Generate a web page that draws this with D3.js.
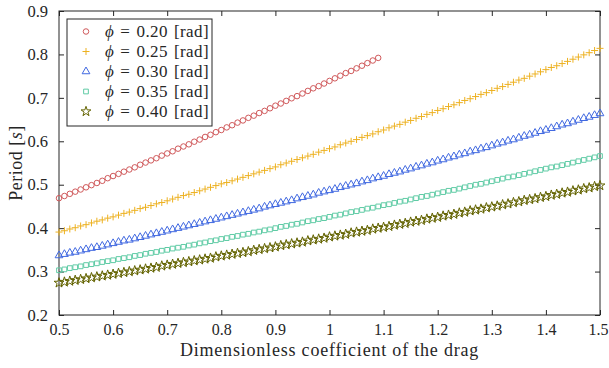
<!DOCTYPE html>
<html>
<head>
<meta charset="utf-8">
<script src="https://cdn.jsdelivr.net/npm/d3@7"></script>
<style>
  body { margin: 0; background: #fff; }
  svg { display: block; }
</style>
</head>
<body>
<svg id="chart"></svg>
<script>
// drag coefficient grid (x) and periods
const dragCoef = [0.5,0.51,0.52,0.53,0.54,0.55,0.56,0.57,0.58,0.59,0.6,0.61,0.62,0.63,0.64,0.65,0.66,0.67,0.68,0.69,
  0.7,0.71,0.72,0.73,0.74,0.75,0.76,0.77,0.78,0.79,0.8,0.81,0.82,0.83,0.84,0.85,0.86,0.87,0.88,0.89,
  0.9,0.91,0.92,0.93,0.94,0.95,0.96,0.97,0.98,0.99,1,1.01,1.02,1.03,1.04,1.05,1.06,1.07,1.08,1.09,
  1.1,1.11,1.12,1.13,1.14,1.15,1.16,1.17,1.18,1.19,1.2,1.21,1.22,1.23,1.24,1.25,1.26,1.27,1.28,1.29,
  1.3,1.31,1.32,1.33,1.34,1.35,1.36,1.37,1.38,1.39,1.4,1.41,1.42,1.43,1.44,1.45,1.46,1.47,1.48,1.49,1.5];

const period020 = [0.469,0.474,0.479,0.484,0.489,0.494,0.499,0.504,0.509,0.515,0.520,0.525,0.530,0.535,0.540,0.546,0.551,0.556,0.561,0.567,
  0.572,0.577,0.583,0.588,0.593,0.599,0.604,0.610,0.615,0.621,0.626,0.632,0.637,0.643,0.648,0.654,0.659,0.665,0.670,0.676,
  0.682,0.687,0.693,0.699,0.704,0.710,0.716,0.722,0.727,0.733,0.739,0.745,0.751,0.757,0.762,0.768,0.774,0.780,0.786,0.792];

const period025 = [0.391,0.394,0.398,0.401,0.405,0.408,0.412,0.416,0.419,0.423,0.426,0.430,0.434,0.437,0.441,0.445,0.448,0.452,0.456,0.459,
  0.463,0.467,0.471,0.475,0.478,0.482,0.486,0.490,0.494,0.498,0.502,0.505,0.509,0.513,0.517,0.521,0.525,0.529,0.533,0.537,
  0.541,0.546,0.550,0.554,0.558,0.562,0.566,0.570,0.575,0.579,0.583,0.587,0.592,0.596,0.600,0.604,0.609,0.613,0.617,0.622,
  0.626,0.631,0.635,0.639,0.644,0.648,0.653,0.657,0.662,0.666,0.671,0.675,0.680,0.684,0.689,0.694,0.698,0.703,0.708,0.712,
  0.717,0.722,0.726,0.731,0.736,0.741,0.745,0.750,0.755,0.760,0.765,0.770,0.774,0.779,0.784,0.789,0.794,0.799,0.804,0.809,0.814];

const period030 = [0.337,0.340,0.343,0.345,0.348,0.351,0.354,0.356,0.359,0.362,0.365,0.368,0.371,0.373,0.376,0.379,0.382,0.385,0.388,0.391,
  0.394,0.397,0.400,0.403,0.406,0.409,0.412,0.415,0.418,0.421,0.424,0.427,0.430,0.433,0.436,0.439,0.442,0.445,0.449,0.452,
  0.455,0.458,0.461,0.464,0.468,0.471,0.474,0.477,0.481,0.484,0.487,0.490,0.494,0.497,0.500,0.503,0.507,0.510,0.514,0.517,
  0.520,0.524,0.527,0.530,0.534,0.537,0.541,0.544,0.548,0.551,0.555,0.558,0.562,0.565,0.569,0.572,0.576,0.579,0.583,0.586,
  0.590,0.594,0.597,0.601,0.604,0.608,0.612,0.615,0.619,0.623,0.626,0.630,0.634,0.638,0.641,0.645,0.649,0.653,0.656,0.660,0.664];

const period035 = [0.303,0.305,0.308,0.310,0.312,0.315,0.317,0.319,0.322,0.324,0.326,0.329,0.331,0.333,0.336,0.338,0.341,0.343,0.345,0.348,
  0.350,0.353,0.355,0.357,0.360,0.362,0.365,0.367,0.370,0.372,0.375,0.377,0.380,0.382,0.385,0.387,0.390,0.392,0.395,0.397,
  0.400,0.403,0.405,0.408,0.410,0.413,0.416,0.418,0.421,0.423,0.426,0.429,0.431,0.434,0.437,0.439,0.442,0.445,0.447,0.450,
  0.453,0.455,0.458,0.461,0.463,0.466,0.469,0.472,0.474,0.477,0.480,0.483,0.486,0.488,0.491,0.494,0.497,0.500,0.502,0.505,
  0.508,0.511,0.514,0.517,0.519,0.522,0.525,0.528,0.531,0.534,0.537,0.540,0.542,0.545,0.548,0.551,0.554,0.557,0.560,0.563,0.566];

const period040 = [0.274,0.276,0.278,0.280,0.282,0.284,0.286,0.288,0.290,0.292,0.294,0.296,0.298,0.300,0.302,0.304,0.306,0.308,0.310,0.313,
  0.315,0.317,0.319,0.321,0.323,0.325,0.327,0.329,0.331,0.334,0.336,0.338,0.340,0.342,0.344,0.346,0.349,0.351,0.353,0.355,
  0.357,0.360,0.362,0.364,0.366,0.368,0.371,0.373,0.375,0.377,0.380,0.382,0.384,0.386,0.389,0.391,0.393,0.395,0.398,0.400,
  0.402,0.404,0.407,0.409,0.411,0.414,0.416,0.418,0.421,0.423,0.425,0.428,0.430,0.432,0.435,0.437,0.440,0.442,0.444,0.447,
  0.449,0.451,0.454,0.456,0.459,0.461,0.464,0.466,0.468,0.471,0.473,0.476,0.478,0.481,0.483,0.486,0.488,0.491,0.493,0.496,0.498];

const phiLabels = ["0.20", "0.25", "0.30", "0.35", "0.40"];
const xTicks = [0.5, 0.6, 0.7, 0.8, 0.9, 1, 1.1, 1.2, 1.3, 1.4, 1.5];
const yTicks = [0.2, 0.3, 0.4, 0.5, 0.6, 0.7, 0.8, 0.9];

const width = 609, height = 368;
const margin = { top: 11, right: 9, bottom: 53, left: 59 };
const axisColor = "#262626";
const serif = "'Liberation Serif', 'DejaVu Serif', serif";

const svg = d3.select("#chart")
  .attr("width", width)
  .attr("height", height)
  .attr("viewBox", [0, 0, width, height])
  .style("font-family", serif);

const x = d3.scaleLinear()
  .domain([0.5, 1.5])
  .range([margin.left, width - margin.right]);

const y = d3.scaleLinear()
  .domain([0.2, 0.9])
  .range([height - margin.bottom, margin.top]);

// marker shapes
const plusPath = "M-3.5,0H3.5M0,-3.5V3.5";
const series = [
  { vals: period020, color: "#D0595B", shape: d3.symbol(d3.symbolCircle, 24)() },
  { vals: period025, color: "#EDB120", shape: plusPath },
  { vals: period030, color: "#4169E1", shape: d3.symbol(d3.symbolTriangle, 26)() },
  { vals: period035, color: "#5FCBA5", shape: d3.symbol(d3.symbolSquare, 22)() },
  { vals: period040, color: "#636300", shape: d3.symbol(d3.symbolStar, 30)() }
];

// axes: ticks inside, mirrored on top/right (box on)
const tickLen = 5;
svg.append("g")
  .attr("transform", `translate(0,${height - margin.bottom})`)
  .call(d3.axisBottom(x).tickValues(xTicks).tickSizeInner(-tickLen).tickSizeOuter(0).tickPadding(9).tickFormat(d3.format("")))
  .call(g => {
    g.select(".domain").remove();
    g.selectAll(".tick line").attr("stroke", axisColor);
    g.selectAll("text").attr("fill", axisColor).style("font-size", "16px").style("font-family", serif);
    g.selectAll(".tick:last-of-type text").attr("dx", "-2");
  });

svg.append("g")
  .attr("transform", `translate(0,${margin.top})`)
  .call(d3.axisTop(x).tickValues(xTicks).tickSizeInner(-tickLen).tickSizeOuter(0).tickFormat(""))
  .call(g => {
    g.select(".domain").remove();
    g.selectAll(".tick line").attr("stroke", axisColor);
  });

svg.append("g")
  .attr("transform", `translate(${margin.left},0)`)
  .call(d3.axisLeft(y).tickValues(yTicks).tickSizeInner(-tickLen).tickSizeOuter(0).tickPadding(11).tickFormat(d3.format("")))
  .call(g => {
    g.select(".domain").remove();
    g.selectAll(".tick line").attr("stroke", axisColor);
    g.selectAll("text").attr("fill", axisColor).style("font-size", "16.5px").style("font-family", serif);
  });

svg.append("g")
  .attr("transform", `translate(${width - margin.right},0)`)
  .call(d3.axisRight(y).tickValues(yTicks).tickSizeInner(-tickLen).tickSizeOuter(0).tickFormat(""))
  .call(g => {
    g.select(".domain").remove();
    g.selectAll(".tick line").attr("stroke", axisColor);
  });

// box
svg.append("rect")
  .attr("x", margin.left)
  .attr("y", margin.top)
  .attr("width", width - margin.left - margin.right)
  .attr("height", height - margin.top - margin.bottom)
  .attr("fill", "none")
  .attr("stroke", axisColor)
  .attr("stroke-width", 1);

// markers
series.forEach((s, k) => {
  svg.append("g")
    .selectAll("path")
    .data(s.vals)
    .join("path")
      .attr("transform", (d, i) => `translate(${x(dragCoef[i])},${y(d)})`)
      .attr("d", s.shape)
      .attr("fill", "none")
      .attr("stroke", s.color)
      .attr("stroke-width", 1);
});

// axis labels
svg.append("text")
  .attr("x", (margin.left + width - margin.right) / 2)
  .attr("y", 356)
  .attr("text-anchor", "middle")
  .attr("fill", axisColor)
  .style("font-size", "18px")
  .style("letter-spacing", "0.8px")
  .text("Dimensionless coefficient of the drag");

const ylab = svg.append("text")
  .attr("transform", `translate(22,${(margin.top + height - margin.bottom) / 2}) rotate(-90)`)
  .attr("text-anchor", "middle")
  .attr("fill", axisColor)
  .style("font-size", "18px")
  .style("letter-spacing", "0.5px");
ylab.append("tspan").text("Period [");
ylab.append("tspan").attr("font-style", "italic").text("s");
ylab.append("tspan").text("]");

// legend
const legend = svg.append("g").attr("transform", "translate(67,19)");
legend.append("rect")
  .attr("width", 145)
  .attr("height", 107)
  .attr("fill", "#fff")
  .attr("stroke", axisColor)
  .attr("stroke-width", 1);

series.forEach((s, k) => {
  const ry = 12.5 + k * 20;
  legend.append("path")
    .attr("transform", `translate(19,${ry})`)
    .attr("d", s.shape)
    .attr("fill", "none")
    .attr("stroke", s.color)
    .attr("stroke-width", 1);
  const t = legend.append("text")
    .attr("x", 38)
    .attr("y", ry + 5.5)
    .attr("fill", axisColor)
    .style("font-size", "17px")
    .style("letter-spacing", "0.4px")
    .style("word-spacing", "1.5px");
  t.append("tspan").attr("font-style", "italic").text("ϕ");
  t.append("tspan").text(` = ${phiLabels[k]} [rad]`);
});
</script>
</body>
</html>
